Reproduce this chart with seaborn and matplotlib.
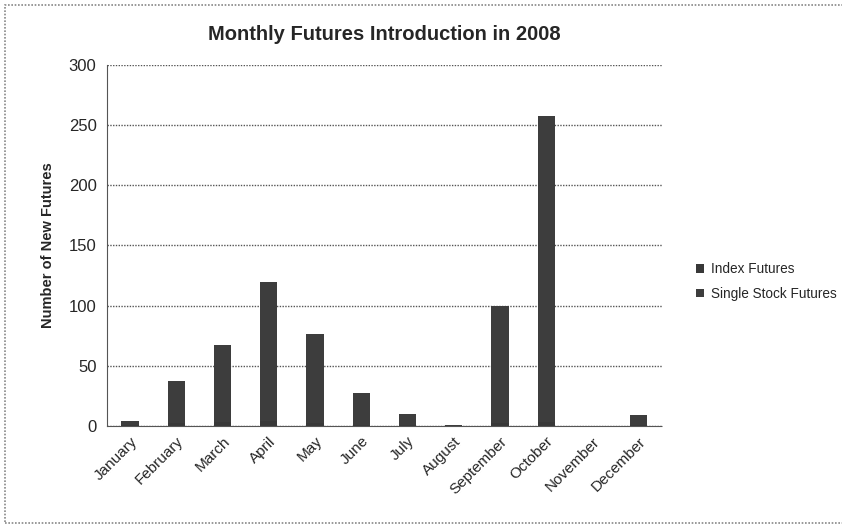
import matplotlib
matplotlib.use("Agg")
import matplotlib.pyplot as plt
import seaborn as sns
import pandas as pd

months = ["January", "February", "March", "April", "May", "June", "July",
          "August", "September", "October", "November", "December"]
index_futures = [1, 2, 3, 4, 2, 1, 1, 0, 2, 3, 0, 1]
single_stock_futures = [3, 35, 64, 116, 74, 26, 9, 1, 98, 255, 0, 8]
y_ticks = [0, 50, 100, 150, 200, 250, 300]

df = pd.DataFrame({"month": months, "index": index_futures, "single": single_stock_futures})

sns.set_style("white")
plt.rcParams["font.family"] = ["Liberation Sans", "DejaVu Sans"]

fig = plt.figure(figsize=(8.42, 5.29), dpi=100)
ax = fig.add_axes([0.127, 0.195, 0.659, 0.682])

# stacked bars: index futures at the bottom, single stock futures on top
sns.barplot(x="month", y="index", data=df, color="#383838", width=0.37,
            ax=ax, label="Index Futures", saturation=1, linewidth=0, edgecolor="none")
sns.barplot(x="month", y="single", data=df, bottom=df["index"], color="#3d3d3d",
            width=0.37, ax=ax, label="Single Stock Futures", saturation=1,
            linewidth=0, edgecolor="none")

ax.set_ylim(0, 300)
ax.set_yticks(y_ticks)
ax.set_xlim(-0.5, len(months) - 0.5)
ax.yaxis.grid(True, linestyle=(0, (1, 1)), color="#555555", linewidth=1)
ax.set_axisbelow(True)
for s in ["top", "right"]:
    ax.spines[s].set_visible(False)
ax.spines["left"].set_linestyle((0, (1, 1)))
ax.spines["bottom"].set_linestyle((0, (1, 1)))
ax.spines["left"].set_color("#555555")
ax.spines["bottom"].set_color("#555555")

ax.set_xticks([i - 0.5 for i in range(len(months) + 1)], minor=True)
ax.tick_params(axis="x", which="major", length=0, pad=6)
ax.tick_params(axis="x", which="minor", length=4, direction="out", color="#555555")
ax.tick_params(axis="y", length=4, direction="out", color="#555555", labelsize=12)
ax.set_xticklabels(months, rotation=45, ha="right", rotation_mode="anchor", fontsize=11)

ax.set_xlabel("")
ax.set_ylabel("Number of New Futures", fontsize=10.5, fontweight="bold", labelpad=10)
ax.set_title("Monthly Futures Introduction in 2008", fontsize=14.5, fontweight="bold", pad=18)

ax.legend(loc="center left", bbox_to_anchor=(1.04, 0.40), frameon=False,
          fontsize=9.8, handlelength=0.6, handleheight=0.6, handletextpad=0.5,
          labelspacing=0.75)

fig.patches.append(plt.Rectangle((0.006, 0.012), 1.2, 0.978, transform=fig.transFigure,
                                 fill=False, edgecolor="#888888", linewidth=1.2,
                                 linestyle=(0, (1, 1))))

plt.savefig("out.png", dpi=100)
